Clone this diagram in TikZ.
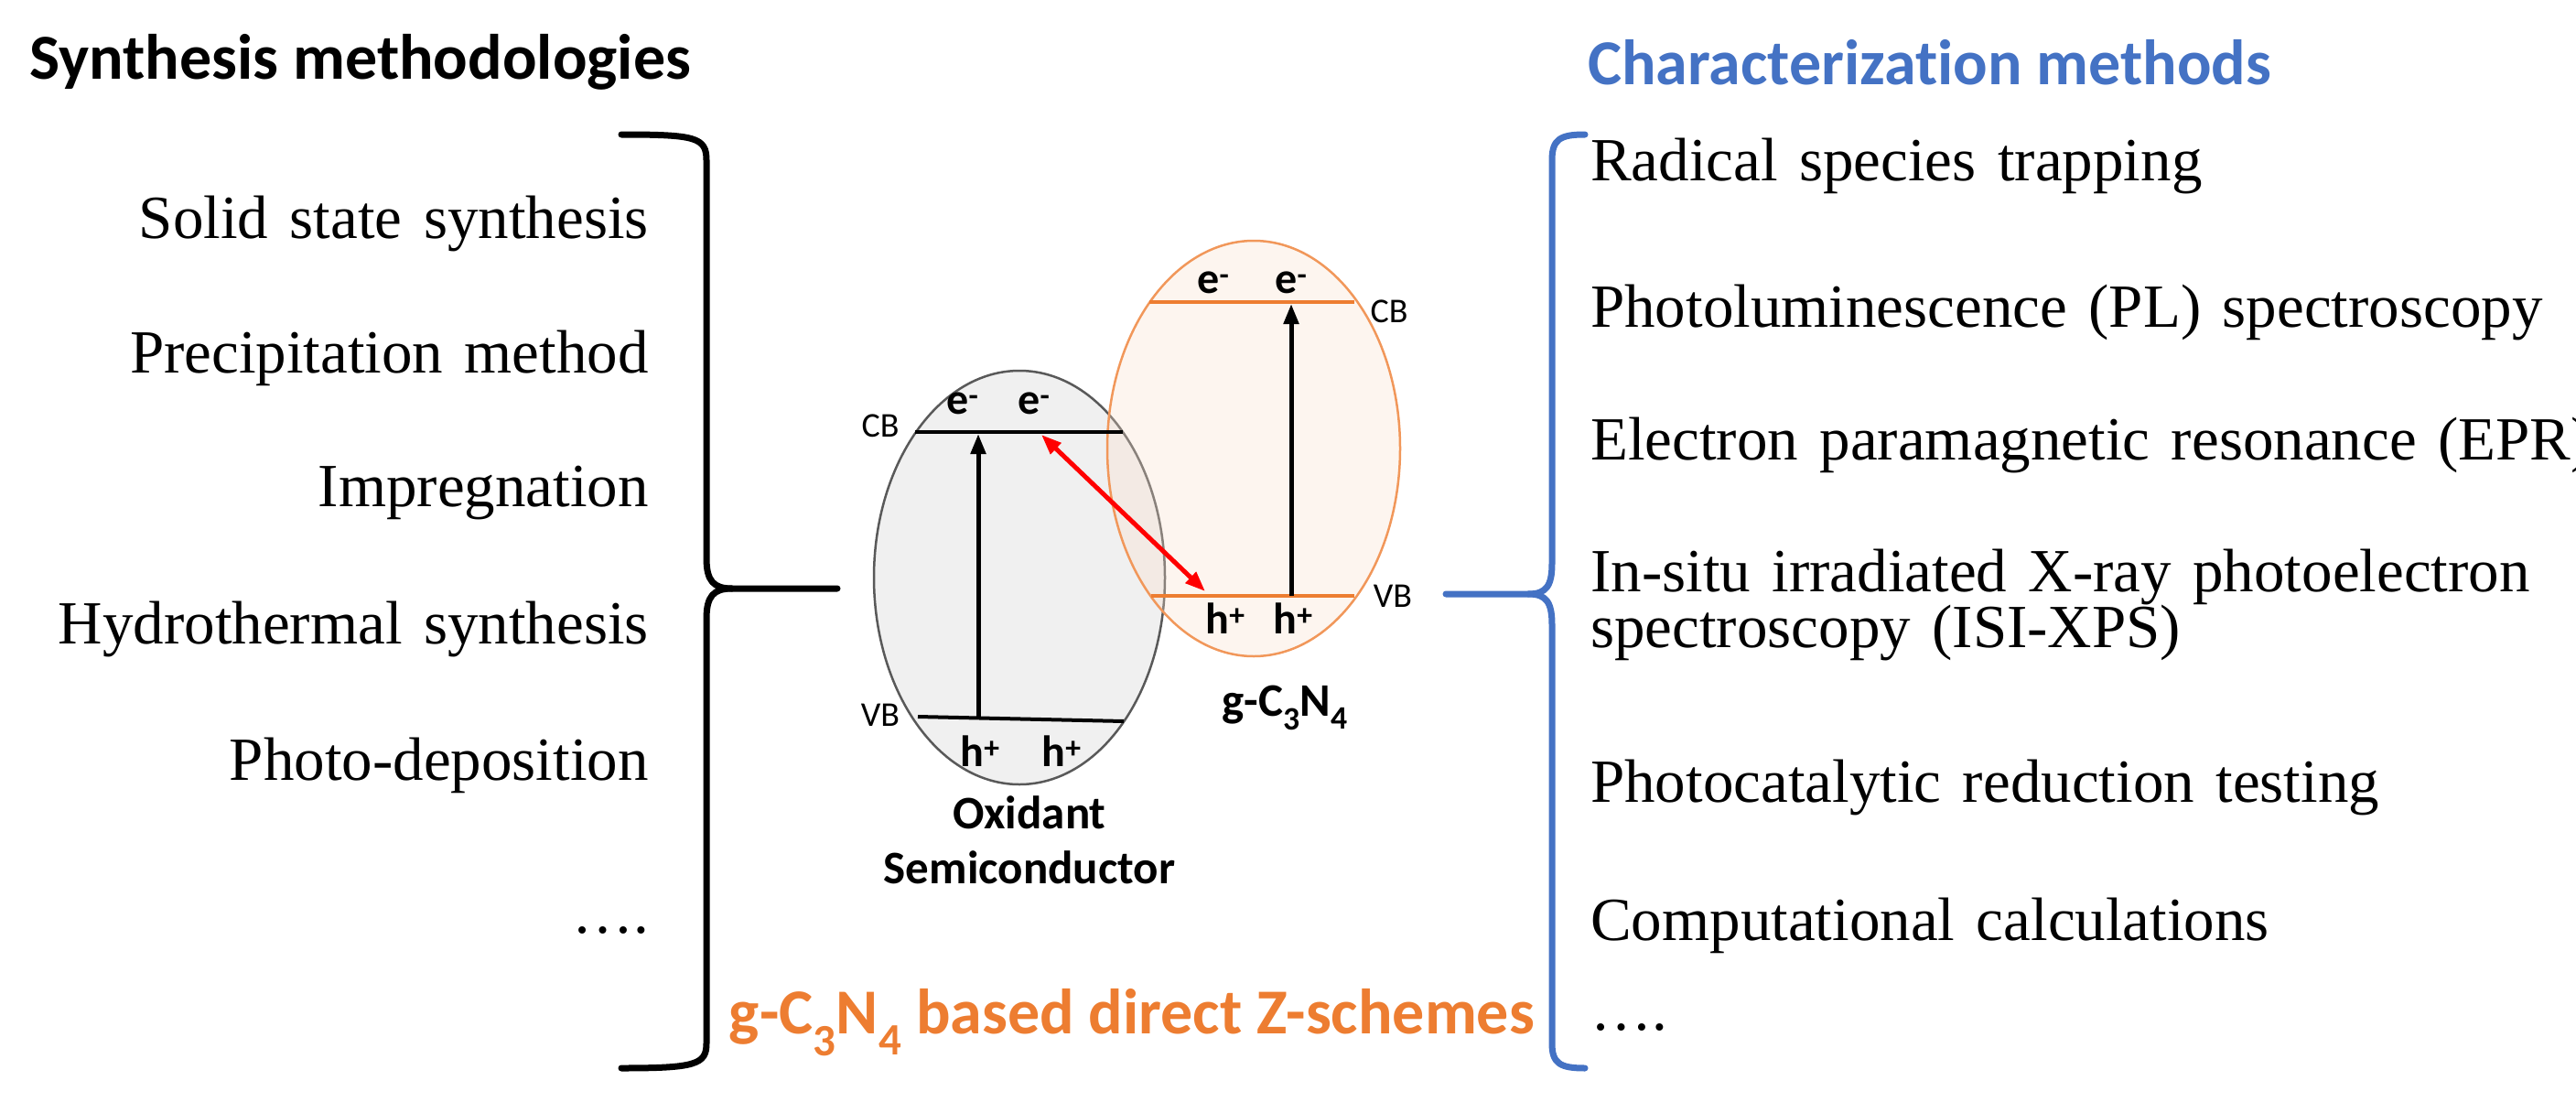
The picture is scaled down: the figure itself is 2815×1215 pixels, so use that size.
\documentclass[tikz,border=0pt]{standalone}
\usepackage{fontspec}
\setmainfont{Liberation Serif}[WordSpace=1.4]
\newfontfamily\calib{Carlito}[Ligatures=NoCommon]
\usetikzlibrary{arrows.meta,shapes.geometric}
\definecolor{zorange}{HTML}{ED7D31}
\definecolor{zblue}{HTML}{4472C4}
\definecolor{zgray}{HTML}{595959}
\begin{document}
\begin{tikzpicture}[x=1pt,y=-1pt,
  item/.style={font=\fontsize{67}{59}\selectfont,inner sep=0},
  head/.style={font=\calib\bfseries\fontsize{70}{74}\selectfont,inner sep=0},
  small/.style={font=\calib\fontsize{38}{40}\selectfont,inner sep=0},
  carrier/.style={font=\calib\bfseries\fontsize{48}{50}\selectfont,inner sep=0},
  lab/.style={font=\calib\bfseries\fontsize{51}{60}\selectfont,inner sep=0,align=center},
  brace/.style={line width=7pt,line cap=round,line join=round},
  lvl/.style={line width=4pt},
  up/.style={line width=5pt,-{Triangle[length=22pt,width=16pt]}},
]
\useasboundingbox (0,0) rectangle (2815,1215);
% headings
\node[head,anchor=west] (h1) at (32,68) {Synthesis methodologies};
\node[head,anchor=west,text=zblue] (h2) at (1735,68) {Characterization methods};
% left items
\foreach \t/\y [count=\i] in {Solid state synthesis/244,Precipitation method/391,Impregnation/539,Hydrothermal synthesis/687,Photo-deposition/836,{\dots.}/1016}
  \node[item,anchor=east] (l\i) at (709,\y) {\t};
% right items
\node[item,anchor=west] (r1) at (1738,181) {Radical species trapping};
\node[item,anchor=west] (r2) at (1738,341) {Photoluminescence (PL) spectroscopy};
\node[item,anchor=west] (r3) at (1738,486) {Electron paramagnetic resonance (EPR)};
\node[item,anchor=west,align=left] (r4) at (1738,661) {In-situ irradiated X-ray photoelectron\\spectroscopy (ISI-XPS)};
\node[item,anchor=west] (r5) at (1738,860) {Photocatalytic reduction testing};
\node[item,anchor=west] (r6) at (1738,1011) {Computational calculations};
\node[item,anchor=west] (r7) at (1738,1122) {\dots.};
% braces
\coordinate (lt) at (679,147); \coordinate (lb) at (679,1167); \coordinate (ltip) at (915,643);
\draw[brace] (lt) .. controls (760,147) and (772,150) .. (772,175) -- (772,610)
  .. controls (772,635) and (780,643) .. (800,643) -- (ltip);
\draw[brace] (800,643) .. controls (780,643) and (772,651) .. (772,676) -- (772,1140)
  .. controls (772,1163) and (760,1167) .. (lb);
\coordinate (rt) at (1732,147); \coordinate (rb) at (1732,1167); \coordinate (rtip) at (1580,649);
\draw[brace,zblue] (rt) .. controls (1705,147) and (1696,152) .. (1696,175) -- (1696,615)
  .. controls (1696,640) and (1690,649) .. (1670,649) -- (rtip);
\draw[brace,zblue] (1670,649) .. controls (1690,649) and (1696,658) .. (1696,683) -- (1696,1140)
  .. controls (1696,1162) and (1705,1167) .. (rb);
% ellipses
\node[draw=zgray,fill=black!6,line width=2.5pt,ellipse,minimum width=318pt,minimum height=452pt,inner sep=0] (g) at (1114,631) {};
\node[draw=zorange!80,fill=zorange!25,fill opacity=0.3,draw opacity=1,line width=2.5pt,ellipse,minimum width=320pt,minimum height=454pt,inner sep=0] (o) at (1370,490) {};
% gray levels
\coordinate (gc1) at (1000,472); \coordinate (gc2) at (1227,472);
\coordinate (gv1) at (1003,783); \coordinate (gv2) at (1228,788);
\draw[lvl] (gc1) -- (gc2);
\draw[lvl] (gv1) -- (gv2);
\coordinate (ga0) at (1069,785); \coordinate (ga1) at (1069,474);
\draw[up] (ga0) -- (ga1);
\node[small] (gcb) at (962,465) {CB};
\node[small] (gvb) at (962,781) {VB};
\node[carrier] (ge1) at (1052,441) {e\textsuperscript{-}};
\node[carrier] (ge2) at (1130,441) {e\textsuperscript{-}};
\node[carrier] (gh1) at (1071,821) {h\textsuperscript{+}};
\node[carrier] (gh2) at (1160,821) {h\textsuperscript{+}};
% orange levels
\coordinate (oc1) at (1256,330); \coordinate (oc2) at (1480,330);
\coordinate (ov1) at (1258,651); \coordinate (ov2) at (1480,651);
\draw[lvl,zorange] (oc1) -- (oc2);
\draw[lvl,zorange] (ov1) -- (ov2);
\coordinate (oa0) at (1411,651); \coordinate (oa1) at (1411,332);
\draw[up] (oa0) -- (oa1);
\node[small] (ocb) at (1518,340) {CB};
\node[small] (ovb) at (1522,651) {VB};
\node[carrier] (oe1) at (1326,309) {e\textsuperscript{-}};
\node[carrier] (oe2) at (1411,309) {e\textsuperscript{-}};
\node[carrier] (oh1) at (1339,676) {h\textsuperscript{+}};
\node[carrier] (oh2) at (1413,676) {h\textsuperscript{+}};
% red arrow
\coordinate (ra) at (1138,475); \coordinate (rb2) at (1317,646);
\draw[red,line width=5pt,{Triangle[length=22pt,width=16pt]}-{Triangle[length=22pt,width=16pt]}] (ra) -- (rb2);
% labels
\node[lab] (gl) at (1404,773) {g-C\textsubscript{3}N\textsubscript{4}};
\node[lab] (ol) at (1125,918) {Oxidant\\Semiconductor};
\node[head,text=zorange,font=\calib\bfseries\fontsize{70}{72}\selectfont] (zl) at (1237,1117) {g-C\textsubscript{3}N\textsubscript{4} based direct Z-schemes};
\end{tikzpicture}
\end{document}
